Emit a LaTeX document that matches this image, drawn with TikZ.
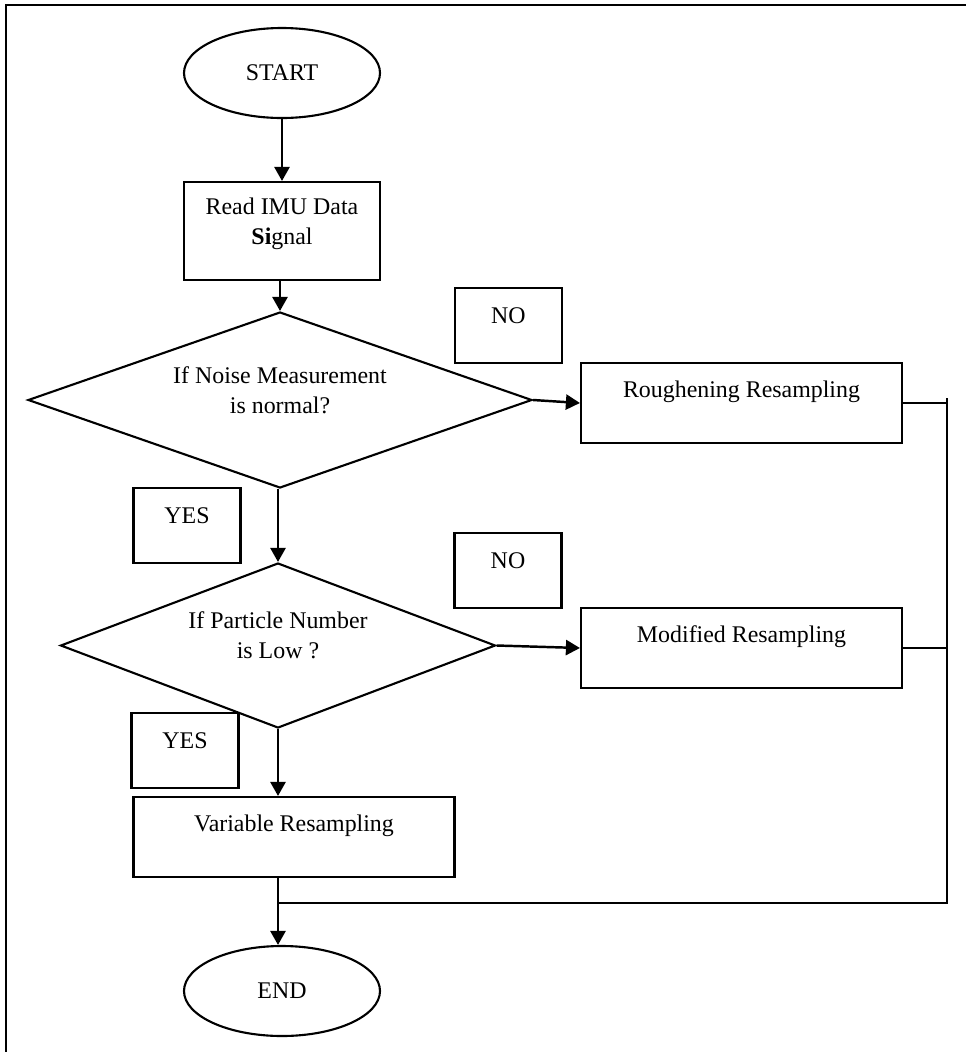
\documentclass[tikz,border=0pt]{standalone}
\usepackage{fontspec}
\setmainfont{Liberation Serif}
\usetikzlibrary{shapes.geometric, arrows.meta}

\begin{document}
\begin{tikzpicture}[x=0.02cm, y=-0.02cm, font=\fontsize{13.6}{17}\selectfont]

\newlength{\px}
\setlength{\px}{0.02cm}

\useasboundingbox (0,0) rectangle (966,1052);

% styles
\pgfkeys{/flow/.style={draw, line width=1.4pt, -{Triangle[length=8pt, width=8.6pt]}}} % arrows between blocks
\pgfkeys{/wire/.style={draw, line width=0.9pt}} % return lines, no arrowhead
\pgfkeys{/blk/.style={draw, line width=1.2pt, inner sep=0}} % base style for blocks
\pgfkeys{/term/.style={/blk, ellipse, minimum width=196\px, minimum height=90\px}} % start / end
\pgfkeys{/proc/.style={/blk, rectangle, minimum width=321\px, text height=34\px, text depth=46\px}} % resampling steps
\pgfkeys{/cond/.style={/blk, diamond, shape aspect=2.7, align=center, text depth=20\px}} % decisions
\pgfkeys{/tag/.style={/blk, rectangle, minimum width=107\px, text height=35\px, text depth=40\px}} % YES / NO boxes

% frame
\draw[line width=1pt] (6,1052) -- (6,5) -- (966,5);

% main column
\node[/term] (start) at (282,73) {START};
\node[/blk, rectangle, minimum width=196\px, minimum height=98\px, align=center, text depth=20\px] (read) at (282,231) {Read IMU Data\\\textbf{Si}gnal};
\node[/cond, minimum width=504\px, minimum height=176\px] (ifnoise) at (280,400) {If Noise Measurement\\is normal?};
\node[/cond, minimum width=435\px, minimum height=165\px] (ifnum) at (278,645.5) {If Particle Number\\is Low ?};
\node[/proc] (varres) at (294,837) {Variable Resampling};
\node[/term] (stop) at (282,991) {END};

% right column
\node[/proc] (rough) at (741.5,403) {Roughening Resampling};
\node[/proc] (modif) at (741.5,648) {Modified Resampling};

% answers
\node[/tag] (no1) at (508.5,325.5) {NO};
\node[/tag] (yes1) at (187,525.5) {YES};
\node[/tag] (no2) at (508,570.5) {NO};
\node[/tag] (yes2) at (185,750.5) {YES};

% flow
\draw[/flow] (start.south) -- (read.north);
\draw[/flow] (read.south -| ifnoise.north) -- (ifnoise.north);
\draw[/flow] (ifnoise.south -| ifnum.north) -- (ifnum.north);
\draw[/flow] (ifnoise.east) -- (rough.west);
\draw[/flow] (ifnum.east) -- (modif.west);
\draw[/flow] (ifnum.south) -- (ifnum.south |- varres.north);
\draw[/flow] (ifnum.south |- varres.south) -- (ifnum.south |- stop.north);

% return to END
\coordinate (bus) at (947,398);
\coordinate (join) at (947,903);
\draw[/wire] (rough.east) -- (rough.east -| bus);
\draw[/wire] (modif.east) -- (modif.east -| bus);
\draw[/wire] (bus) -- (join) -- (join -| ifnum.south);

\end{tikzpicture}
\end{document}
